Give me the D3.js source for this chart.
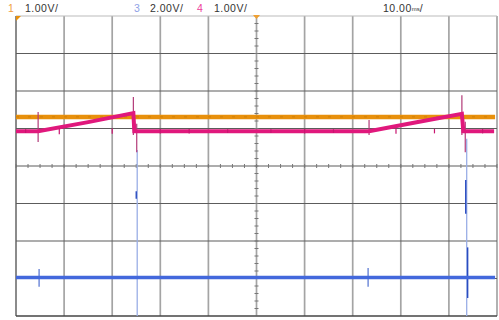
<!DOCTYPE html>
<html>
<head>
<meta charset="utf-8">
<script src="https://cdn.jsdelivr.net/npm/d3@7"></script>
<style>
  body { margin: 0; background: #fff; }
  text { font-family: "Liberation Sans", Arial, sans-serif; }
</style>
</head>
<body>
<div id="scope"></div>
<script>
/***** data *****/
// time base 10 ms/div, 10 divisions centred on trigger
var timeDomain = [-50, 50];
var divDomain = [-4, 4];

// channel settings (V/div, offset in divisions)
var chNames = ["1", "3", "4"];
var chScales = ["1.00V/", "2.00V/", "1.00V/"];
var chVoltsPerDiv = [1, 2, 1];
var chOffsetDiv = [0, -2.97, 0.93];
var timeLabel = "10.00";

// channel 1: flat dc level [ms, V]
var ch1Trace = [[-50, 1.31], [49.6, 1.31]];

// channel 4: sawtooth ramps [ms, V]
var ch4Trace = [[-50, 0], [-45.4, 0], [-35, 0.24], [-25.6, 0.48], [-25.4, 0],
  [0, 0], [23.4, 0], [33, 0.23], [42.7, 0.46], [43.0, 0], [49.4, 0]];
// channel 4 spikes [ms, Vtop, Vbottom]
var ch4Spikes = [[-45.4, 0.51, -0.29], [-25.6, 0.91, -0.1], [-24.9, 0.2, -0.56],
  [42.7, 0.96, -0.1], [43.4, 0.25, -0.56], [23.4, 0.3, -0.1]];
// channel 4 small glitches [ms, V]
var ch4Glitch = [[-48, 0.05], [-41, 0.08], [-30, 0.07], [-20, 0.06], [-14, -0.06],
  [-6, 0.05], [3, -0.05], [10, 0.06], [16, 0.05], [29, 0.07], [37, 0.06], [47, 0.06]];

// channel 3: flat with spikes [ms, V]
var ch3Trace = [[-50, 0], [49.6, 0]];
var ch3Spikes = [[-24.8, 6.8, -2.1], [43.7, 7.4, -2.1]];
var ch3Bold = [[-25.0, 4.6, 4.2], [43.5, 5.2, 3.4], [43.9, 1.6, -1.1]];
var ch3Small = [[-45.2, 0.45, -0.5], [23.2, 0.5, -0.5]];

/***** chart *****/
var width = 499, height = 320;
var margin = {top: 16, right: 1, bottom: 4, left: 16};

var svg = d3.select("#scope").append("svg")
  .attr("width", width)
  .attr("height", height);

var x = d3.scaleLinear()
  .domain(timeDomain)
  .range([margin.left, width - margin.right - 1]);
var y = d3.scaleLinear()
  .domain(divDomain)
  .range([height - margin.bottom, margin.top]);

// volts -> screen y for channel i
var yCh = function(i, v) { return y(v / chVoltsPerDiv[i] + chOffsetDiv[i]); };

// grid
var grid = svg.append("g");
grid.selectAll("line.v")
  .data(d3.range(-50, 51, 10))
  .enter().append("line")
  .attr("x1", d => x(d)).attr("x2", d => x(d))
  .attr("y1", y(4)).attr("y2", y(-4))
  .attr("stroke", d => d == -50 ? "#777" : "#a4a4a4")
  .attr("stroke-width", 1.7);
grid.selectAll("line.h")
  .data(d3.range(-4, 5, 1))
  .enter().append("line")
  .attr("x1", x(-50)).attr("x2", x(50))
  .attr("y1", d => y(d)).attr("y2", d => y(d))
  .attr("stroke", d => d == -4 ? "#444" : (d == 4 ? "#bbb" : "#5c5c5c"))
  .attr("stroke-width", d => d == -4 ? 1.6 : 1.1);

// centre axis ticks
grid.selectAll("line.ty")
  .data(d3.range(-4, 4.01, 0.2))
  .enter().append("line")
  .attr("x1", x(0) - 2).attr("x2", x(0) + 2)
  .attr("y1", d => y(d)).attr("y2", d => y(d))
  .attr("stroke", "#777");
grid.selectAll("line.tx")
  .data(d3.range(-50, 50.01, 2.5))
  .enter().append("line")
  .attr("x1", d => x(d)).attr("x2", d => x(d))
  .attr("y1", y(0) - 2).attr("y2", y(0) + 2)
  .attr("stroke", "#777");

var line = function(i) {
  return d3.line().x(d => x(d[0])).y(d => yCh(i, d[1]));
};

// channel 1 (orange)
svg.append("path")
  .datum(ch1Trace)
  .attr("d", line(0))
  .attr("fill", "none")
  .attr("stroke", "#e8900c")
  .attr("stroke-width", 4.5);
svg.append("path")
  .datum(ch1Trace)
  .attr("d", line(0))
  .attr("fill", "none")
  .attr("stroke", "#c87808")
  .attr("stroke-width", 0.8)
  .attr("stroke-dasharray", "3,9");

// channel 3 (blue)
svg.selectAll("line.c3s")
  .data(ch3Spikes)
  .enter().append("line")
  .attr("x1", d => x(d[0])).attr("x2", d => x(d[0]))
  .attr("y1", d => yCh(1, d[1])).attr("y2", d => Math.min(yCh(1, d[2]), y(-4)))
  .attr("stroke", "#9aaee6")
  .attr("stroke-width", 1.3);
svg.selectAll("line.c3b")
  .data(ch3Bold)
  .enter().append("line")
  .attr("x1", d => x(d[0])).attr("x2", d => x(d[0]))
  .attr("y1", d => yCh(1, d[1])).attr("y2", d => yCh(1, d[2]))
  .attr("stroke", "#2a4cc0")
  .attr("stroke-width", 1.4);
svg.selectAll("line.c3m")
  .data(ch3Small)
  .enter().append("line")
  .attr("x1", d => x(d[0])).attr("x2", d => x(d[0]))
  .attr("y1", d => yCh(1, d[1])).attr("y2", d => yCh(1, d[2]))
  .attr("stroke", "#5070d0")
  .attr("stroke-width", 1.2);
svg.append("path")
  .datum(ch3Trace)
  .attr("d", line(1))
  .attr("fill", "none")
  .attr("stroke", "#4368dc")
  .attr("stroke-width", 3.5);

// channel 4 (magenta)
svg.selectAll("line.c4s")
  .data(ch4Spikes)
  .enter().append("line")
  .attr("x1", d => x(d[0])).attr("x2", d => x(d[0]))
  .attr("y1", d => yCh(2, d[1])).attr("y2", d => yCh(2, d[2]))
  .attr("stroke", "#b23a78")
  .attr("stroke-width", 1.2);
svg.append("path")
  .datum(ch4Trace)
  .attr("d", line(2))
  .attr("fill", "none")
  .attr("stroke", "#e0187c")
  .attr("stroke-width", 4);
svg.selectAll("line.c4g")
  .data(ch4Glitch)
  .enter().append("line")
  .attr("x1", d => x(d[0])).attr("x2", d => x(d[0]))
  .attr("y1", d => yCh(2, d[1])).attr("y2", d => yCh(2, -d[1]))
  .attr("stroke", "#c81670")
  .attr("stroke-width", 1.2);

// markers
svg.append("path")
  .attr("d", "M" + x(-50) + "," + y(4) + "l5,0l-5,5z")
  .attr("fill", "#e8900c");
svg.append("path")
  .attr("d", "M" + (x(0) - 3.5) + "," + (y(4) - 1) + "l7,0l-3.5,4z")
  .attr("fill", "#f0a030");

// header
var header = [
  {t: chNames[0], x: 8, c: "#f0a040"},
  {t: chScales[0], x: 25, c: "#333"},
  {t: chNames[1], x: 134, c: "#8fa2e6"},
  {t: chScales[1], x: 150, c: "#333"},
  {t: chNames[2], x: 197, c: "#ee3d9b"},
  {t: chScales[2], x: 214, c: "#333"}
];
svg.selectAll("text.h")
  .data(header)
  .enter().append("text")
  .attr("x", d => d.x).attr("y", 12)
  .attr("font-size", 10.5)
  .attr("letter-spacing", 0.5)
  .attr("fill", d => d.c)
  .text(d => d.t);

var tl = svg.append("text")
  .attr("x", 383).attr("y", 12)
  .attr("font-size", 10.5)
  .attr("letter-spacing", 0.5)
  .attr("fill", "#333");
tl.append("tspan").text(timeLabel);
tl.append("tspan").attr("font-size", 6).attr("dy", -1).attr("letter-spacing", 0).text("ms");
tl.append("tspan").attr("dy", 1).text("/");
</script>
</body>
</html>
